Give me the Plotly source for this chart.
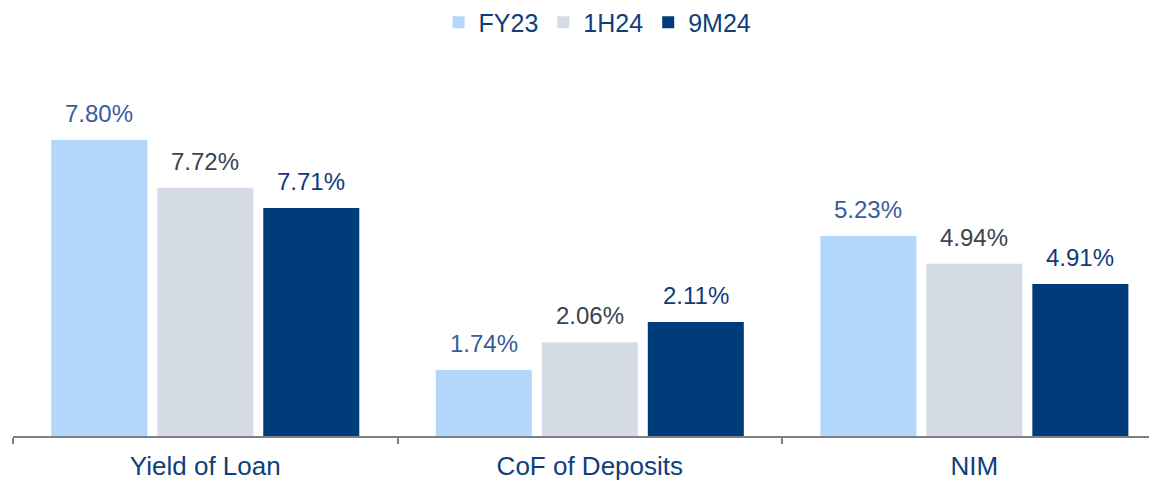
import plotly.graph_objects as go

categories = ["Yield of Loan", "CoF of Deposits", "NIM"]
series_names = ["FY23", "1H24", "9M24"]

# Bar heights as drawn in the reference (in % units on the hidden y axis)
heights_fy23 = [7.79, 1.74, 5.26]
heights_1h24 = [6.53, 2.47, 4.53]
heights_9m24 = [6.00, 3.00, 4.00]

# Data labels as printed on the reference
labels_fy23 = ["7.80%", "1.74%", "5.23%"]
labels_1h24 = ["7.72%", "2.06%", "4.94%"]
labels_9m24 = ["7.71%", "2.11%", "4.91%"]

bar_colors = ["#B3D7FB", "#D5DCE5", "#003C7A"]
label_colors = ["#3A5C9A", "#3B4250", "#0E3C78"]
cat_color = "#0F3F7A"
FONT = "Liberation Sans, Arial, sans-serif"

all_heights = [heights_fy23, heights_1h24, heights_9m24]
all_labels = [labels_fy23, labels_1h24, labels_9m24]

fig = go.Figure()
for name, h, col in zip(series_names, all_heights, bar_colors):
    fig.add_trace(go.Bar(name=name, x=categories, y=h, marker=dict(color=col, line=dict(width=0))))

offsets = [-106, 0, 106]
annotations = []
for h, labs, lc, off in zip(all_heights, all_labels, label_colors, offsets):
    for c, v, t in zip(categories, h, labs):
        annotations.append(dict(
            x=c, y=v, xref="x", yref="y", text=t, showarrow=False,
            xshift=off, yanchor="bottom", yshift=11,
            font=dict(family=FONT, size=24, color=lc),
        ))

# the page body adds an 8px margin, so the figure is 8px smaller and margins compensate
fig.update_layout(
    width=1149, height=476,
    margin=dict(l=5, r=0, t=48, b=48, autoexpand=False),
    paper_bgcolor="white", plot_bgcolor="white",
    barmode="group", bargap=0.173, bargroupgap=0.094,
    annotations=annotations,
    font=dict(family=FONT),
    legend=dict(
        orientation="h", x=0.511, xanchor="center", y=1.088, yanchor="middle",
        font=dict(family=FONT, size=25, color=cat_color),
        itemclick=False, traceorder="normal",
    ),
    xaxis=dict(
        range=[-0.5, 2.475], showgrid=False, zeroline=False,
        showline=True, linecolor="#808080", linewidth=1.5,
        ticks="outside", tickson="boundaries", ticklen=6, tickcolor="#808080", tickwidth=1.5,
        tickfont=dict(family=FONT, size=26, color=cat_color),
        ticklabelstandoff=6,
    ),
    yaxis=dict(range=[0, 10], visible=False, showgrid=False, zeroline=False),
)

fig.write_html("out.html")
